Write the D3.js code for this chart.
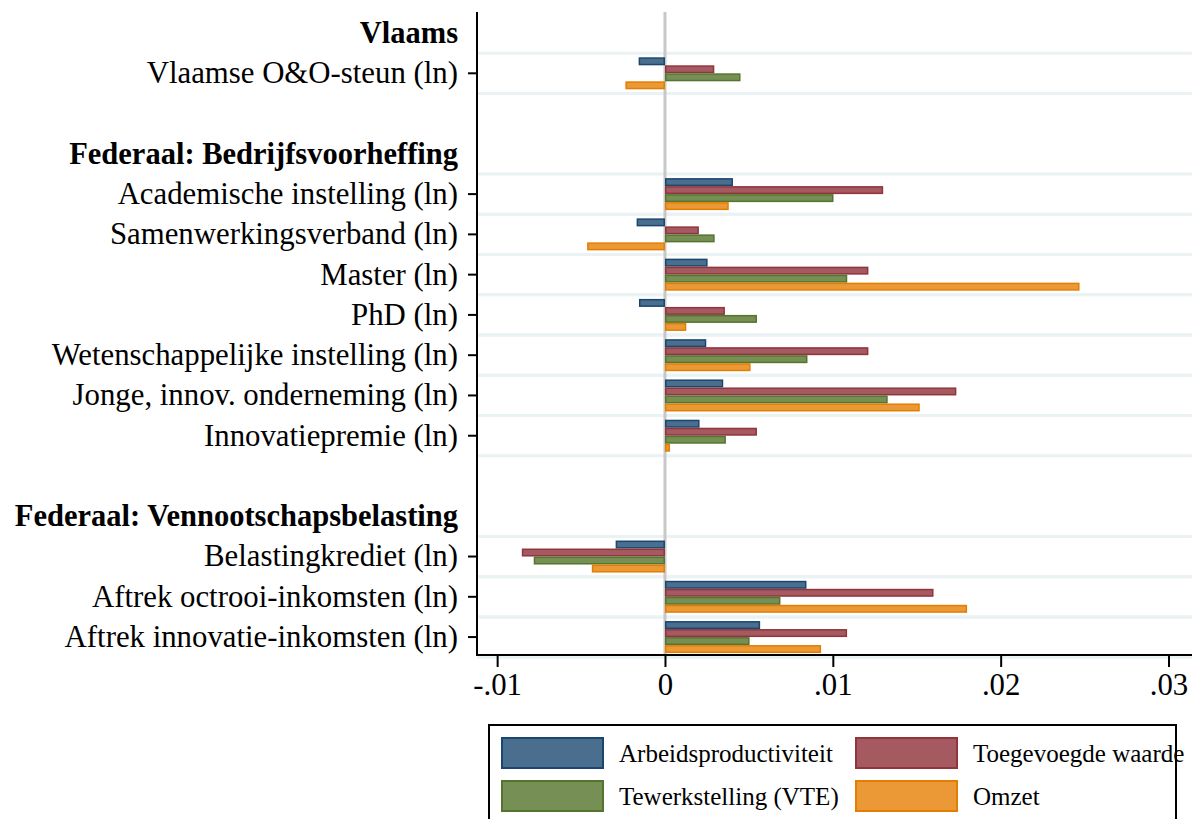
<!DOCTYPE html>
<html>
<head>
<meta charset="utf-8">
<script src="https://d3js.org/d3.v7.min.js"></script>
<style>
  body { margin: 0; background: #fff; }
  text { font-family: "Liberation Serif", "Times New Roman", serif; }
</style>
</head>
<body>
<script>
// rows of the chart, top to bottom ("" = empty spacer row)
var rows = ["Vlaams", "Vlaamse O&O-steun (ln)", "",
            "Federaal: Bedrijfsvoorheffing",
            "Academische instelling (ln)", "Samenwerkingsverband (ln)", "Master (ln)", "PhD (ln)",
            "Wetenschappelijke instelling (ln)", "Jonge, innov. onderneming (ln)", "Innovatiepremie (ln)", "",
            "Federaal: Vennootschapsbelasting",
            "Belastingkrediet (ln)", "Aftrek octrooi-inkomsten (ln)", "Aftrek innovatie-inkomsten (ln)"];
var headers = ["Vlaams", "Federaal: Bedrijfsvoorheffing", "Federaal: Vennootschapsbelasting"];

var series = ["Arbeidsproductiviteit", "Toegevoegde waarde", "Tewerkstelling (VTE)", "Omzet"];

// values per item row (same order as the non-header rows)
var arbeid      = [-0.00157, 0.00405, -0.00169, 0.00254, -0.00155, 0.00246, 0.00347, 0.00206, -0.00294, 0.00843, 0.00567];
var toegevoegd  = [ 0.00294, 0.01300,  0.00202, 0.01212,  0.00357, 0.01212, 0.01736, 0.00548, -0.00853, 0.01600, 0.01085];
var tewerk      = [ 0.00450, 0.01004,  0.00296, 0.01086,  0.00548, 0.00849, 0.01327, 0.00363, -0.00782, 0.00688, 0.00504];
var omzet       = [-0.00236, 0.00380, -0.00464, 0.02470,  0.00127, 0.00510, 0.01518, 0.00030, -0.00436, 0.01800, 0.00930];

var xTicks = [-0.01, 0, 0.01, 0.02, 0.03];

var fills   = ["#4a6e8d", "#a45a60", "#768f55", "#ea9936"];
var strokes = ["#1a476f", "#90353b", "#55752f", "#e37e00"];

var W = 1192, H = 819;
var svg = d3.select("body").append("svg").attr("width", W).attr("height", H);

var x = d3.scaleLinear().domain([-0.0112, 0.0314]).range([477, 1192]);
var y = d3.scaleBand().domain(d3.range(rows.length)).range([12.9, 657.2]).padding(0);
var yInner = d3.scaleBand().domain(series).range([-16, 16]);

var items = [];
rows.forEach(function(r, i) {
  if (r !== "" && headers.indexOf(r) < 0) items.push({label: r, idx: i});
});
var values = [arbeid, toegevoegd, tewerk, omzet];

// grid lines around each item row
var gridY = [];
items.forEach(function(it) { gridY.push(y(it.idx)); gridY.push(y(it.idx) + y.step()); });
svg.selectAll(".grid").data(gridY).enter().append("line")
  .attr("x1", 477).attr("x2", W)
  .attr("y1", function(d) { return d; }).attr("y2", function(d) { return d; })
  .attr("stroke", "#eaf2f3").attr("stroke-width", 3);

// zero line
svg.append("line")
  .attr("x1", x(0)).attr("x2", x(0)).attr("y1", 12).attr("y2", 655)
  .attr("stroke", "#c8c8c8").attr("stroke-width", 3);

// bars
items.forEach(function(it, k) {
  var cy = y(it.idx) + y.step() / 2;
  series.forEach(function(s, j) {
    var v = values[j][k];
    svg.append("rect")
      .attr("x", x(Math.min(0, v)) + 0.75)
      .attr("width", Math.max(0.5, Math.abs(x(v) - x(0)) - 1.5))
      .attr("y", cy + yInner(s) + 0.75)
      .attr("height", yInner.bandwidth() - 1.5)
      .attr("fill", fills[j])
      .attr("stroke", strokes[j])
      .attr("stroke-width", 1.5);
  });
});

// left axis
var yAxis = d3.axisLeft(y)
  .tickValues(items.map(function(d) { return d.idx; }))
  .tickFormat(function(d) { return rows[d]; })
  .tickSize(9).tickPadding(10);
var gy = svg.append("g").attr("transform", "translate(477,0)").call(yAxis);
gy.select(".domain").remove();
gy.selectAll(".tick line").attr("stroke", "#000").attr("stroke-width", 2);
gy.selectAll(".tick text").attr("font-size", 30.8).attr("fill", "#000")
  .style("font-family", "'Liberation Serif', serif");
svg.append("line").attr("x1", 477).attr("x2", 477).attr("y1", 12).attr("y2", 656)
  .attr("stroke", "#000").attr("stroke-width", 2);

// group headers
svg.selectAll(".hdr").data(headers).enter().append("text")
  .attr("x", 458)
  .attr("y", function(d) { return y(rows.indexOf(d)) + y.step() / 2; })
  .attr("dy", "0.33em")
  .attr("text-anchor", "end")
  .attr("font-size", 30.5).attr("font-weight", "bold")
  .text(function(d) { return d; });

// bottom axis
var xAxis = d3.axisBottom(x).tickValues(xTicks)
  .tickFormat(function(d) { return d === 0 ? "0" : d3.format(".2f")(d).replace("0.", ".").replace("\u2212", "-"); })
  .tickSize(12).tickPadding(6);
var gx = svg.append("g").attr("transform", "translate(0,655)").call(xAxis);
gx.select(".domain").remove();
gx.selectAll(".tick line").attr("stroke", "#000").attr("stroke-width", 2);
gx.selectAll(".tick text").attr("font-size", 30.8).attr("fill", "#000")
  .style("font-family", "'Liberation Serif', serif");
svg.append("line").attr("x1", 476).attr("x2", W).attr("y1", 655).attr("y2", 655)
  .attr("stroke", "#000").attr("stroke-width", 2);

// legend
svg.append("rect").attr("x", 489).attr("y", 725).attr("width", 687).attr("height", 120)
  .attr("fill", "#fff").attr("stroke", "#000").attr("stroke-width", 2);
var legPos = [[502, 738], [856, 738], [502, 781], [856, 781]];
series.forEach(function(s, j) {
  var p = legPos[j];
  svg.append("rect").attr("x", p[0]).attr("y", p[1]).attr("width", 101).attr("height", 30)
    .attr("fill", fills[j]).attr("stroke", strokes[j]).attr("stroke-width", 2);
  svg.append("text").attr("x", p[0] + 117).attr("y", p[1] + 24)
    .attr("font-size", 25).text(s);
});
</script>
</body>
</html>
